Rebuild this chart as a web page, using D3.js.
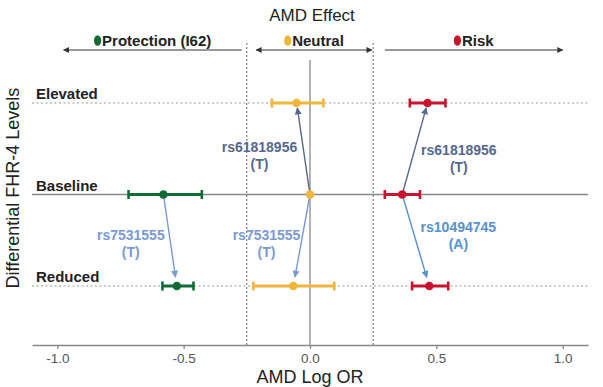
<!DOCTYPE html>
<html>
<head>
<meta charset="utf-8">
<script src="https://cdn.jsdelivr.net/npm/d3@7"></script>
<style>
  body { margin: 0; background: #fff; }
  svg { font-family: "Liberation Sans", Arial, Helvetica, sans-serif; }
</style>
</head>
<body>
<svg id="chart"></svg>
<script>
// FHR-4 level rows and AMD effect groups
const levels = ["Elevated", "Baseline", "Reduced"];
const effects = ["Protection (I62)", "Neutral", "Risk"];

// log OR estimates + CI per effect group, by level (null = not shown)
const protectionEst = [null, -0.58, -0.527];
const protectionLo = [null, -0.718, -0.584];
const protectionHi = [null, -0.428, -0.461];

const neutralEst = [-0.053, 0, -0.066];
const neutralLo = [-0.151, 0, -0.224];
const neutralHi = [0.053, 0, 0.096];

const riskEst = [0.465, 0.365, 0.472];
const riskLo = [0.395, 0.296, 0.404];
const riskHi = [0.536, 0.435, 0.547];

// variant arrows: baseline -> target level within an effect group
const snps = ["rs61818956", "rs61818956", "rs7531555", "rs7531555", "rs10494745"];
const alleles = ["T", "T", "T", "T", "A"];
const snpEffect = ["Neutral", "Risk", "Protection (I62)", "Neutral", "Risk"];
const snpTarget = ["Elevated", "Elevated", "Reduced", "Reduced", "Reduced"];

const xTicks = [-1, -0.5, 0, 0.5, 1];

const W = 603, H = 387;
const effectColor = {"Protection (I62)": "#0f6a36", "Neutral": "#f1b53c", "Risk": "#c8152f"};
const snpColor = {"rs61818956": "#56688d", "rs7531555": "#7a9ad2", "rs10494745": "#5592cf"};

const estTable = {
  "Protection (I62)": [protectionEst, protectionLo, protectionHi],
  "Neutral": [neutralEst, neutralLo, neutralHi],
  "Risk": [riskEst, riskLo, riskHi]
};

const rows = [];
effects.forEach(function (e) {
  const t = estTable[e];
  levels.forEach(function (l, i) {
    if (t[0][i] !== null) rows.push({effect: e, level: l, est: t[0][i], lo: t[1][i], hi: t[2][i]});
  });
});
function findRow(e, l) {
  return rows.find(function (r) { return r.effect === e && r.level === l; });
}

const plotTop = 60, plotBottom = 345;
const x = d3.scaleLinear().domain([-1.1, 1.1]).range([32, 588]);
const y = d3.scalePoint().domain(levels).range([103, 286]);

const svg = d3.select("#chart").attr("width", W).attr("height", H);

// defs for arrowheads
const defs = svg.append("defs");
function addMarker(id, color, w, h) {
  defs.append("marker")
    .attr("id", id)
    .attr("viewBox", "0 0 10 10")
    .attr("refX", 9).attr("refY", 5)
    .attr("markerWidth", w).attr("markerHeight", h)
    .attr("markerUnits", "userSpaceOnUse")
    .attr("orient", "auto-start-reverse")
    .append("path")
    .attr("d", "M0,0 L10,5 L0,10 Z")
    .attr("fill", color);
}
addMarker("arr-legend", "#333", 7, 6);
Object.keys(snpColor).forEach(function (k) { addMarker("arr-" + k, snpColor[k], 8, 7); });

// title
svg.append("text")
  .attr("x", x(0) + 2).attr("y", 21)
  .attr("text-anchor", "middle")
  .style("font-size", "17px").style("fill", "#222")
  .text("AMD Effect");

// reference lines
svg.append("line")
  .attr("x1", x(0)).attr("x2", x(0)).attr("y1", plotTop).attr("y2", plotBottom)
  .style("stroke", "#999").style("stroke-width", 1.5);

[-0.25, 0.25].forEach(function (v) {
  svg.append("line")
    .attr("x1", x(v)).attr("x2", x(v)).attr("y1", 43).attr("y2", plotBottom)
    .style("stroke", "#666").style("stroke-width", 1).style("stroke-dasharray", "2,2");
});

levels.forEach(function (l) {
  const ln = svg.append("line")
    .attr("x1", x.range()[0]).attr("x2", x.range()[1])
    .attr("y1", y(l)).attr("y2", y(l));
  if (l === "Baseline") {
    ln.style("stroke", "#888").style("stroke-width", 1.3);
  } else {
    ln.style("stroke", "#999").style("stroke-width", 1).style("stroke-dasharray", "2,2.5");
  }
  svg.append("text")
    .attr("x", 36).attr("y", y(l) - 4)
    .style("font-size", "15px").style("font-weight", "bold").style("fill", "#222")
    .text(l);
});

// x axis
const xAxis = svg.append("g")
  .attr("transform", "translate(0," + plotBottom + ")")
  .call(d3.axisBottom(x).tickValues(xTicks).tickSize(4).tickSizeOuter(0)
    .tickFormat(function (d) { return d.toFixed(1); }));
xAxis.select(".domain").style("stroke", "#888").style("stroke-width", 1.3);
xAxis.selectAll(".tick line").style("stroke", "#888").style("stroke-width", 1.3);
xAxis.selectAll(".tick text")
  .attr("y", 8)
  .style("font-size", "13.5px").style("fill", "#555")
  .style("font-family", "'Liberation Sans', Arial, Helvetica, sans-serif");

svg.append("text")
  .attr("x", x(0)).attr("y", 383)
  .attr("text-anchor", "middle")
  .style("font-size", "18px").style("fill", "#222")
  .text("AMD Log OR");

svg.append("text")
  .attr("transform", "translate(19," + 188 + ") rotate(-90)")
  .attr("text-anchor", "middle")
  .style("font-size", "18px").style("fill", "#222")
  .text("Differential FHR-4 Levels");

// legend arrows for effect zones
const zones = [
  {effect: "Protection (I62)", from: -0.975, to: -0.27, start: true, end: false},
  {effect: "Neutral", from: -0.213, to: 0.245, start: true, end: true},
  {effect: "Risk", from: 0.296, to: 1.0, start: false, end: true}
];
zones.forEach(function (z) {
  const ln = svg.append("line")
    .attr("x1", x(z.from)).attr("x2", x(z.to)).attr("y1", 50).attr("y2", 50)
    .style("stroke", "#333").style("stroke-width", 1.2);
  if (z.start) ln.attr("marker-start", "url(#arr-legend)");
  if (z.end) ln.attr("marker-end", "url(#arr-legend)");
  const cx = (x(z.from) + x(z.to)) / 2;
  const g = svg.append("g");
  const t = g.append("text")
    .attr("y", 45.5)
    .style("font-size", "15px").style("font-weight", "bold").style("fill", "#222")
    .text(z.effect);
  const tw = t.node().getComputedTextLength();
  const total = tw + 8;
  const left = cx - total / 2;
  t.attr("x", left + 8);
  g.append("ellipse")
    .attr("cx", left + 3.5).attr("cy", 40.5).attr("rx", 3.6).attr("ry", 5.3)
    .style("fill", effectColor[z.effect]);
});

// variant arrows
const labelX = [-0.2, 0.589, -0.709, -0.172, 0.587];
const labelDy = [3.5, 6.5, 0, 0, -8];
snps.forEach(function (s, i) {
  const src = findRow(snpEffect[i], "Baseline");
  const tgt = findRow(snpEffect[i], snpTarget[i]);
  const x1 = x(src.est), y1 = y(src.level);
  const x2 = x(tgt.est), y2 = y(tgt.level);
  const len = Math.hypot(x2 - x1, y2 - y1);
  const shorten = y2 < y1 ? 5 : 9;
  const ex = x2 - (x2 - x1) / len * shorten;
  const ey = y2 - (y2 - y1) / len * shorten;
  svg.append("line")
    .attr("x1", x1).attr("y1", y1).attr("x2", ex).attr("y2", ey)
    .style("stroke", snpColor[s]).style("stroke-width", 1.4)
    .attr("marker-end", "url(#arr-" + s + ")");

  const ly = (y1 + y2) / 2 + labelDy[i];
  const lbl = svg.append("text")
    .attr("text-anchor", "middle")
    .style("font-size", "14px").style("font-weight", "bold").style("fill", snpColor[s]);
  lbl.append("tspan").attr("x", x(labelX[i])).attr("y", ly).text(s);
  lbl.append("tspan").attr("x", x(labelX[i])).attr("y", ly + 17).text("(" + alleles[i] + ")");
});

// error bars + points
const marks = svg.append("g");
rows.forEach(function (r) {
  const c = effectColor[r.effect];
  const yy = y(r.level);
  if (r.hi > r.lo) {
    marks.append("line")
      .attr("x1", x(r.lo)).attr("x2", x(r.hi)).attr("y1", yy).attr("y2", yy)
      .style("stroke", c).style("stroke-width", 3);
    [r.lo, r.hi].forEach(function (v) {
      marks.append("line")
        .attr("x1", x(v)).attr("x2", x(v)).attr("y1", yy - 4.5).attr("y2", yy + 4.5)
        .style("stroke", c).style("stroke-width", 2.6);
    });
  }
  marks.append("circle")
    .attr("cx", x(r.est)).attr("cy", yy).attr("r", 4.3)
    .style("fill", c);
});
</script>
</body>
</html>
